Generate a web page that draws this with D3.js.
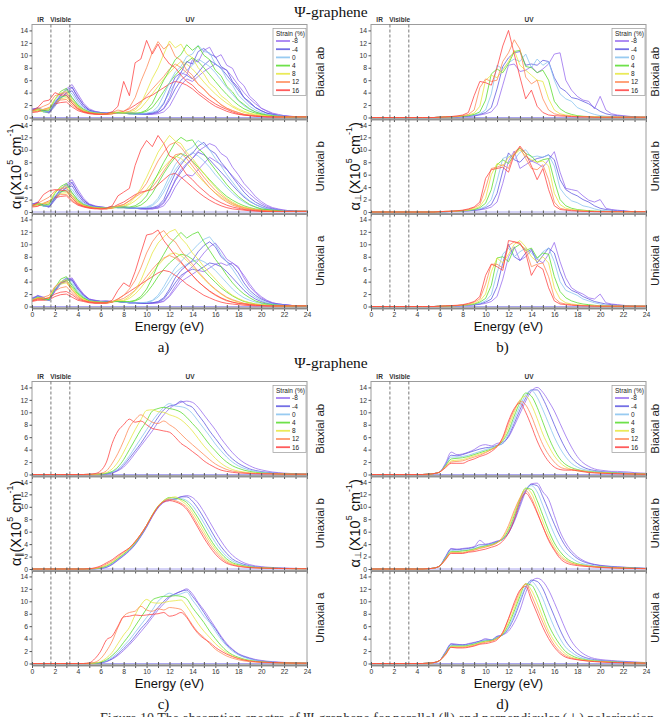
<!DOCTYPE html>
<html><head><meta charset="utf-8">
<script src="https://cdn.jsdelivr.net/npm/d3@7"></script>
<style>body{margin:0;background:#fff;}svg{display:block;}</style>
</head><body>
<svg id="chart" width="661" height="717"></svg>
<script>
const energy=[0,0.5,1,1.5,2,2.5,3,3.5,4,4.5,5,5.5,6,6.5,7,7.5,8,8.5,9,9.5,10,10.5,11,11.5,12,12.5,13,13.5,14,14.5,15,15.5,16,16.5,17,17.5,18,18.5,19,19.5,20,20.5,21,21.5,22,22.5,23,23.5,24];
const strains=["-8","-4","0","4","8","12","16"];
const strainColors=["#9468ee","#5c56e0","#86c2ef","#55dc2a","#e6e63c","#ff8652","#ff3f3f"];
const subplotLabels=["Biaxial ab","Uniaxial b","Uniaxial a"];
const xMinorTicks=[0,1,2,3,4,5,6,7,8,9,10,11,12,13,14,15,16,17,18,19,20,21,22,23,24];
const yTicks=[0,2,4,6,8,10,12,14];
const regionLabels=["IR","Visible","UV"];
const regionPos=[0.75,2.5,13.8];
const regionBounds=[1.65,3.3];

// Panel a : alpha parallel (DFT), two in-plane components per strain
const aBiaxXX=[
[1.1,1.6,1.2,0.8,2.2,3.6,4.6,5.3,3.8,2.3,1.4,1.0,0.8,0.7,0.9,0.8,0.8,0.7,0.7,0.6,0.6,0.6,0.8,1.5,3.2,5.6,7.2,6.8,9.3,8.9,10.8,11.3,9.6,10.1,8.4,7.9,6.0,5.1,3.4,2.6,1.5,1.1,0.7,0.5,0.3,0.2,0.15,0.1,0.1],
[1.2,1.5,1.1,0.9,2.4,3.5,4.4,4.9,3.2,2.0,1.2,0.9,0.8,0.7,0.8,0.8,0.8,0.7,0.6,0.6,0.6,0.7,1.0,2.2,4.5,6.5,7.2,9.0,8.6,10.6,11.1,10.2,9.8,8.2,7.6,5.8,4.8,3.2,2.5,1.6,1.1,0.7,0.5,0.3,0.2,0.15,0.1,0.1,0.1],
[1.0,1.5,1.0,1.0,2.6,3.8,4.4,3.8,2.4,1.5,1.0,0.8,0.7,0.7,0.8,0.7,0.8,0.7,0.6,0.6,0.7,0.9,1.8,3.6,5.6,7.3,8.2,9.8,10.2,11.6,10.6,10.4,8.6,7.9,6.2,5.2,3.6,2.7,1.8,1.2,0.8,0.5,0.4,0.3,0.2,0.1,0.1,0.1,0.1],
[1.0,1.4,1.1,1.2,2.9,4.2,4.7,3.2,2.0,1.3,0.9,0.7,0.7,0.6,0.8,0.8,0.8,0.7,0.7,0.8,1.2,2.3,4.2,6.0,7.6,9.3,10.1,11.7,10.8,11.5,10.0,9.3,7.6,6.7,5.0,4.1,2.8,2.1,1.4,0.9,0.6,0.4,0.3,0.2,0.15,0.1,0.1,0.1,0.1],
[1.1,1.3,1.3,1.5,3.0,3.9,4.3,2.9,1.8,1.2,0.8,0.7,0.6,0.6,0.7,0.9,0.8,0.9,1.2,2.2,4.2,6.3,8.0,10.2,12.3,11.2,11.8,10.2,9.6,8.0,7.0,5.5,4.7,3.5,2.8,1.9,1.4,1.0,0.7,0.5,0.4,0.3,0.2,0.15,0.1,0.1,0.1,0.1,0.1],
[1.0,1.4,1.8,2.2,3.5,3.8,4.0,2.6,1.6,1.0,0.8,0.6,0.6,0.6,0.8,1.2,1.0,1.6,3.2,5.8,8.0,10.5,12.2,11.0,11.8,9.8,9.2,7.6,6.8,5.3,4.6,3.5,2.9,2.0,1.5,1.1,0.8,0.5,0.4,0.3,0.2,0.15,0.1,0.1,0.1,0.1,0.1,0.1,0.1],
[1.1,1.6,2.6,2.8,4.0,3.6,3.6,2.3,1.4,0.9,0.7,0.6,0.5,0.6,0.9,1.8,5.8,3.5,8.8,9.4,12.4,10.2,11.8,9.8,8.6,8.0,6.8,5.8,5.2,4.2,3.5,2.8,2.2,1.7,1.3,0.9,0.6,0.4,0.3,0.2,0.15,0.1,0.1,0.1,0.1,0.1,0.1,0.1,0.1]];
const aBiaxYY=[
[1.4,1.5,1.0,0.7,1.8,3.0,4.0,4.8,3.4,2.0,1.2,0.9,0.8,0.7,0.8,0.7,0.7,0.6,0.6,0.5,0.5,0.5,0.6,0.9,1.8,3.5,5.2,6.2,5.8,6.6,7.4,8.0,8.6,8.0,7.6,6.5,5.2,4.0,3.0,2.2,1.5,1.0,0.6,0.4,0.3,0.2,0.1,0.1,0.1],
[1.3,1.4,1.0,0.8,2.0,3.1,3.9,4.3,2.8,1.7,1.1,0.8,0.7,0.7,0.8,0.7,0.7,0.6,0.6,0.5,0.5,0.6,0.8,1.4,2.8,4.6,6.0,6.8,6.2,7.2,8.4,9.2,8.6,7.9,6.8,5.6,4.4,3.2,2.3,1.6,1.1,0.7,0.5,0.3,0.2,0.15,0.1,0.1,0.1],
[1.2,1.3,0.9,0.8,2.0,3.2,3.7,3.2,2.1,1.3,0.9,0.7,0.7,0.6,0.7,0.7,0.7,0.6,0.5,0.5,0.6,0.8,1.2,2.4,4.0,5.6,6.8,7.6,8.4,9.4,8.8,8.2,7.2,6.0,4.8,3.7,2.7,1.9,1.3,0.9,0.6,0.4,0.3,0.2,0.1,0.1,0.1,0.1,0.1],
[1.1,1.2,0.9,0.9,2.1,3.3,3.5,2.7,1.8,1.1,0.8,0.7,0.6,0.6,0.7,0.7,0.7,0.6,0.6,0.7,1.0,1.6,2.8,4.2,5.6,6.8,7.8,8.9,9.6,9.0,8.0,6.9,5.8,4.7,3.7,2.8,2.0,1.4,1.0,0.7,0.5,0.3,0.2,0.15,0.1,0.1,0.1,0.1,0.1],
[1.0,1.1,1.0,1.1,2.3,3.0,3.2,2.3,1.5,1.0,0.7,0.6,0.6,0.6,0.6,0.7,0.7,0.7,0.9,1.5,2.6,3.8,5.0,6.2,7.2,8.2,9.0,8.6,7.8,6.8,5.7,4.7,3.8,3.0,2.3,1.7,1.2,0.8,0.6,0.4,0.3,0.2,0.15,0.1,0.1,0.1,0.1,0.1,0.1],
[0.9,1.0,1.2,1.4,2.4,2.8,2.9,2.0,1.3,0.9,0.7,0.6,0.5,0.5,0.6,0.8,0.8,1.0,1.5,2.4,3.5,4.6,5.6,6.6,7.8,8.6,8.0,7.2,6.3,5.4,4.5,3.6,2.8,2.1,1.5,1.1,0.8,0.5,0.4,0.3,0.2,0.15,0.1,0.1,0.1,0.1,0.1,0.1,0.1],
[0.8,0.9,1.3,1.6,2.2,2.4,2.5,1.7,1.1,0.8,0.6,0.5,0.5,0.5,0.6,0.8,1.0,1.4,2.0,2.6,3.2,3.6,4.2,4.8,5.4,5.8,5.6,5.2,4.6,3.8,3.1,2.4,1.8,1.4,1.0,0.7,0.5,0.4,0.3,0.2,0.15,0.1,0.1,0.1,0.1,0.1,0.1,0.1,0.1]];
const aUniBXX=[
[1.2,1.6,1.1,0.8,2.3,3.7,4.5,5.2,3.6,2.2,1.3,1.0,0.8,0.7,0.8,0.8,0.8,0.7,0.6,0.6,0.5,0.5,0.7,1.4,3.0,5.2,6.8,7.8,8.6,9.8,10.4,11.0,10.6,9.4,8.8,7.2,6.0,4.6,3.6,2.5,1.7,1.1,0.7,0.5,0.3,0.2,0.15,0.1,0.1],
[1.1,1.5,1.1,0.9,2.4,3.6,4.3,4.8,3.1,1.9,1.2,0.9,0.8,0.7,0.8,0.8,0.8,0.7,0.6,0.6,0.6,0.7,1.0,2.0,4.2,6.2,7.6,8.8,9.4,10.6,11.2,10.0,9.4,8.0,6.9,5.6,4.4,3.2,2.3,1.6,1.1,0.7,0.5,0.3,0.2,0.15,0.1,0.1,0.1],
[1.0,1.4,1.0,1.0,2.6,3.7,4.3,3.6,2.3,1.4,1.0,0.8,0.7,0.7,0.8,0.7,0.8,0.7,0.6,0.7,0.8,1.2,2.2,3.8,5.8,7.6,8.8,9.9,10.4,11.5,10.8,10.0,8.6,7.4,6.0,4.8,3.6,2.6,1.8,1.2,0.8,0.5,0.4,0.3,0.2,0.1,0.1,0.1,0.1],
[1.0,1.3,1.1,1.3,3.0,4.1,4.6,3.1,1.9,1.2,0.9,0.7,0.7,0.6,0.8,0.8,0.8,0.8,1.0,1.6,2.6,4.4,6.2,8.0,9.6,11.2,12.0,11.4,11.6,10.2,9.4,8.0,6.8,5.6,4.4,3.4,2.5,1.8,1.2,0.8,0.5,0.4,0.3,0.2,0.1,0.1,0.1,0.1,0.1],
[1.1,1.3,1.4,1.6,3.2,3.9,4.2,2.8,1.7,1.1,0.8,0.7,0.6,0.6,0.7,0.9,1.0,1.4,2.4,3.8,5.6,7.6,9.6,11.0,12.3,11.4,11.0,9.6,8.6,7.4,6.2,5.0,4.0,3.0,2.2,1.6,1.1,0.8,0.6,0.4,0.3,0.2,0.15,0.1,0.1,0.1,0.1,0.1,0.1],
[1.0,1.4,1.9,2.4,3.4,3.7,3.9,2.5,1.5,1.0,0.8,0.6,0.6,0.6,0.8,1.0,1.2,1.8,2.6,3.4,4.6,6.4,8.2,9.6,10.8,11.2,10.4,9.2,8.0,6.8,5.6,4.5,3.5,2.7,2.0,1.4,1.0,0.7,0.5,0.4,0.3,0.2,0.15,0.1,0.1,0.1,0.1,0.1,0.1],
[1.0,1.5,2.8,3.4,3.6,3.5,3.4,2.2,1.3,0.9,0.7,0.6,0.5,0.6,1.0,2.6,3.2,3.8,7.5,10.0,11.5,10.5,12.3,11.0,9.0,8.6,7.4,6.0,5.2,4.2,3.4,2.6,2.0,1.5,1.1,0.8,0.6,0.4,0.3,0.2,0.15,0.1,0.1,0.1,0.1,0.1,0.1,0.1,0.1]];
const aUniBYY=[
[1.3,1.5,1.0,0.8,1.9,3.1,4.0,4.6,3.2,1.9,1.2,0.9,0.8,0.7,0.8,0.7,0.7,0.6,0.6,0.5,0.5,0.5,0.6,1.0,2.2,4.0,5.4,6.0,5.8,6.8,7.8,8.8,8.2,7.6,6.8,5.8,4.8,3.8,2.9,2.1,1.4,0.9,0.6,0.4,0.3,0.2,0.1,0.1,0.1],
[1.3,1.4,1.0,0.8,2.0,3.2,3.9,4.2,2.7,1.6,1.1,0.8,0.7,0.7,0.8,0.7,0.7,0.6,0.6,0.5,0.5,0.6,0.8,1.6,3.2,5.0,6.4,7.6,8.6,9.6,9.2,8.4,7.4,6.4,5.4,4.3,3.3,2.4,1.7,1.2,0.8,0.5,0.4,0.3,0.2,0.1,0.1,0.1,0.1],
[1.2,1.3,0.9,0.9,2.1,3.2,3.6,3.1,2.0,1.3,0.9,0.7,0.7,0.6,0.7,0.7,0.7,0.6,0.6,0.6,0.7,1.0,1.8,3.2,5.0,6.8,8.0,8.8,9.6,9.0,8.2,7.2,6.0,5.0,3.9,3.0,2.2,1.6,1.1,0.8,0.5,0.4,0.3,0.2,0.1,0.1,0.1,0.1,0.1],
[1.1,1.2,1.0,1.0,2.2,3.3,3.4,2.6,1.7,1.1,0.8,0.7,0.6,0.6,0.7,0.7,0.7,0.7,0.8,1.1,1.8,3.0,4.6,6.2,7.6,8.8,9.4,9.0,8.2,7.2,6.2,5.2,4.2,3.3,2.5,1.9,1.4,1.0,0.7,0.5,0.4,0.3,0.2,0.1,0.1,0.1,0.1,0.1,0.1],
[1.0,1.1,1.1,1.2,2.4,3.0,3.1,2.2,1.4,1.0,0.7,0.6,0.6,0.6,0.6,0.8,0.9,1.2,1.8,2.6,3.6,4.8,6.0,7.2,8.2,9.0,8.6,7.8,6.8,5.8,4.8,3.9,3.1,2.4,1.8,1.3,0.9,0.6,0.5,0.3,0.2,0.15,0.1,0.1,0.1,0.1,0.1,0.1,0.1],
[0.9,1.0,1.3,1.5,2.5,2.8,2.8,1.9,1.2,0.9,0.7,0.6,0.5,0.5,0.6,0.9,1.2,1.8,2.4,3.0,3.4,4.0,5.2,6.6,8.0,9.2,9.4,8.6,7.4,6.2,5.0,3.9,3.0,2.2,1.6,1.1,0.8,0.5,0.4,0.3,0.2,0.15,0.1,0.1,0.1,0.1,0.1,0.1,0.1],
[0.8,0.9,1.4,1.8,2.3,2.5,2.6,1.7,1.1,0.8,0.6,0.5,0.5,0.5,0.7,1.2,1.6,2.2,2.8,3.2,3.4,3.6,4.4,5.2,6.0,6.2,5.6,4.8,4.0,3.2,2.5,1.9,1.4,1.0,0.7,0.5,0.4,0.3,0.2,0.15,0.1,0.1,0.1,0.1,0.1,0.1,0.1,0.1,0.1]];
const aUniAXX=[
[1.2,1.8,1.5,0.9,2.6,3.9,4.6,4.4,3.0,1.9,1.2,1.0,0.8,0.9,0.8,0.8,0.7,0.6,0.6,0.5,0.5,0.5,0.6,0.9,1.8,3.2,4.6,5.6,6.4,7.4,8.6,9.6,10.2,9.0,7.6,7.0,6.4,4.6,3.2,2.2,1.4,0.9,0.6,0.4,0.3,0.2,0.1,0.1,0.1],
[1.1,1.7,1.4,1.0,2.7,3.8,4.5,4.2,2.8,1.8,1.1,0.9,0.8,0.8,0.8,0.8,0.7,0.6,0.6,0.5,0.5,0.6,0.8,1.4,2.8,4.6,5.8,6.6,7.4,8.8,9.8,10.4,9.6,8.0,7.2,6.6,5.4,3.8,2.6,1.8,1.2,0.8,0.5,0.4,0.3,0.2,0.1,0.1,0.1],
[1.0,1.6,1.3,1.0,2.8,3.9,4.6,3.9,2.6,1.6,1.0,0.8,0.8,0.7,0.8,0.8,0.7,0.6,0.6,0.6,0.7,1.0,1.8,3.2,4.8,6.2,7.2,8.2,9.0,10.0,10.8,11.2,10.0,8.4,7.2,6.0,4.6,3.2,2.2,1.5,1.0,0.6,0.4,0.3,0.2,0.1,0.1,0.1,0.1],
[1.0,1.5,1.2,1.1,3.0,4.4,4.8,3.4,2.2,1.4,0.9,0.8,0.7,0.7,0.8,0.8,0.8,0.8,1.0,1.6,2.8,4.6,6.8,8.4,10.0,11.0,11.9,11.0,11.6,12.0,10.4,9.0,7.6,6.4,5.0,3.8,2.8,2.0,1.4,0.9,0.6,0.4,0.3,0.2,0.1,0.1,0.1,0.1,0.1],
[1.1,1.4,1.3,1.4,3.1,4.0,4.3,2.9,1.8,1.2,0.8,0.7,0.7,0.6,0.8,1.0,1.0,1.6,2.6,4.2,6.4,8.6,10.2,11.2,12.0,12.4,11.0,10.0,8.6,7.6,6.4,5.4,4.4,3.4,2.5,1.8,1.3,0.9,0.6,0.4,0.3,0.2,0.15,0.1,0.1,0.1,0.1,0.1,0.1],
[1.0,1.3,1.5,1.8,3.2,3.8,4.0,2.6,1.6,1.0,0.8,0.7,0.6,0.6,0.8,1.2,1.8,2.8,4.2,6.2,8.6,10.4,11.6,12.2,11.0,10.4,9.0,7.8,6.8,5.6,4.6,3.6,2.8,2.1,1.5,1.1,0.8,0.5,0.4,0.3,0.2,0.15,0.1,0.1,0.1,0.1,0.1,0.1,0.1],
[0.9,1.2,1.2,1.4,2.0,2.3,2.4,1.9,1.2,0.9,0.7,0.6,0.6,0.6,1.0,2.6,3.8,3.2,5.6,8.6,11.5,11.7,12.3,10.6,9.4,8.2,7.2,6.0,5.0,4.0,3.2,2.5,1.9,1.4,1.0,0.7,0.5,0.4,0.3,0.2,0.15,0.1,0.1,0.1,0.1,0.1,0.1,0.1,0.1]];
const aUniAYY=[
[1.4,1.7,1.3,1.0,2.4,3.6,4.3,4.6,3.2,2.0,1.2,1.0,0.9,0.9,0.8,0.8,0.7,0.6,0.6,0.5,0.5,0.5,0.6,0.8,1.6,2.8,4.0,4.6,5.2,5.8,5.6,6.2,6.8,7.0,6.6,7.0,6.2,5.0,3.6,2.4,1.6,1.0,0.6,0.4,0.3,0.2,0.1,0.1,0.1],
[1.3,1.6,1.2,1.0,2.5,3.6,4.2,4.3,2.9,1.8,1.1,0.9,0.8,0.8,0.8,0.8,0.7,0.6,0.6,0.5,0.5,0.6,0.7,1.2,2.4,3.8,5.0,5.6,6.0,5.8,6.4,7.0,6.8,6.4,5.6,4.6,3.6,2.6,1.8,1.2,0.8,0.5,0.4,0.3,0.2,0.1,0.1,0.1,0.1],
[1.2,1.5,1.1,1.0,2.6,3.6,4.0,3.6,2.4,1.5,1.0,0.8,0.8,0.7,0.8,0.8,0.7,0.6,0.6,0.6,0.6,0.9,1.5,2.6,4.0,5.4,6.2,6.8,7.2,7.6,7.2,6.6,5.8,4.8,3.8,2.8,2.0,1.4,1.0,0.7,0.5,0.3,0.2,0.15,0.1,0.1,0.1,0.1,0.1],
[1.1,1.4,1.1,1.1,2.7,3.8,4.2,3.1,2.0,1.3,0.9,0.8,0.7,0.7,0.8,0.8,0.7,0.7,0.9,1.3,2.2,3.4,4.8,6.0,7.0,7.8,8.4,8.2,7.6,6.8,5.8,4.8,3.9,3.0,2.3,1.7,1.2,0.8,0.6,0.4,0.3,0.2,0.15,0.1,0.1,0.1,0.1,0.1,0.1],
[1.0,1.3,1.2,1.3,2.8,3.6,3.8,2.7,1.7,1.1,0.8,0.7,0.6,0.6,0.7,0.9,0.9,1.3,2.0,3.0,4.2,5.4,6.6,7.6,8.4,8.6,8.2,7.4,6.4,5.4,4.4,3.5,2.7,2.0,1.4,1.0,0.7,0.5,0.4,0.3,0.2,0.15,0.1,0.1,0.1,0.1,0.1,0.1,0.1],
[0.9,1.1,1.2,1.4,2.5,3.0,3.2,2.2,1.4,1.0,0.7,0.6,0.6,0.6,0.7,1.0,1.3,1.9,2.6,3.6,4.8,6.0,7.0,7.8,8.2,7.8,7.0,6.0,5.0,4.0,3.2,2.4,1.8,1.3,0.9,0.7,0.5,0.4,0.3,0.2,0.15,0.1,0.1,0.1,0.1,0.1,0.1,0.1,0.1],
[0.8,1.0,1.0,1.1,1.6,1.9,2.0,1.5,1.0,0.8,0.6,0.5,0.5,0.5,0.7,1.2,1.8,2.4,3.0,3.6,4.2,4.8,5.4,5.8,5.6,5.0,4.4,3.6,3.0,2.4,1.8,1.4,1.0,0.7,0.5,0.4,0.3,0.2,0.15,0.1,0.1,0.1,0.1,0.1,0.1,0.1,0.1,0.1,0.1]];

// Panel b : alpha perpendicular (DFT)
const bBiax=[
[0,0,0,0,0,0,0,0,0,0,0,0,0.05,0.05,0.1,0.1,0.15,0.2,0.25,0.4,0.6,0.9,2.0,5.2,8.4,8.6,7.4,7.6,8.2,7.2,7.8,8.6,10.2,10.4,6.0,4.4,3.4,2.8,2.6,1.4,3.4,1.2,0.6,0.4,0.3,0.2,0.1,0.05,0.05],
[0,0,0,0,0,0,0,0,0,0,0,0,0.05,0.05,0.1,0.1,0.15,0.2,0.3,0.5,0.8,1.6,4.6,8.2,9.6,10.4,10.6,8.4,8.6,8.4,9.2,9.0,6.4,4.8,4.2,3.2,3.0,2.6,2.2,1.6,1.0,0.6,0.4,0.3,0.2,0.15,0.1,0.05,0.05],
[0,0,0,0,0,0,0,0,0,0,0,0,0.05,0.05,0.1,0.15,0.2,0.3,0.4,0.6,1.2,3.8,8.4,7.8,8.8,9.4,9.0,10.2,8.0,9.4,8.4,9.0,6.0,3.8,3.0,2.6,1.6,1.2,0.8,0.5,0.3,0.2,0.15,0.1,0.1,0.05,0.05,0.05,0.05],
[0,0,0,0,0,0,0,0,0,0,0,0,0.05,0.1,0.1,0.15,0.2,0.3,0.5,0.9,2.8,7.0,7.8,7.2,8.6,10.6,10.8,8.2,8.0,7.2,7.6,6.0,2.6,1.4,0.8,0.5,0.3,0.2,0.15,0.1,0.1,0.05,0.05,0.05,0.05,0.05,0.05,0.05,0.05],
[0,0,0,0,0,0,0,0,0,0,0,0,0.05,0.1,0.1,0.15,0.25,0.4,0.7,1.8,6.0,6.8,6.4,7.6,9.0,10.8,8.4,7.6,6.8,6.0,5.8,3.0,1.2,0.6,0.4,0.3,0.2,0.15,0.1,0.1,0.05,0.05,0.05,0.05,0.05,0.05,0.05,0.05,0.05],
[0,0,0,0,0,0,0,0,0,0,0,0,0.05,0.1,0.15,0.2,0.3,0.5,1.2,4.8,6.2,5.8,6.0,9.0,10.4,12.5,11.0,6.5,5.4,6.0,3.0,1.2,0.6,0.4,0.3,0.2,0.15,0.1,0.1,0.05,0.05,0.05,0.05,0.05,0.05,0.05,0.05,0.05,0.05],
[0,0,0,0,0,0,0,0,0,0,0,0,0.05,0.1,0.15,0.25,0.4,0.8,3.5,5.8,5.6,5.2,8.0,11.5,14.0,10.2,6.5,3.0,4.4,1.8,0.8,0.4,0.3,0.25,0.2,0.15,0.1,0.1,0.1,0.05,0.05,0.05,0.05,0.05,0.05,0.05,0.05,0.05,0.05]];
const bUniB=[
[0,0,0,0,0,0,0,0,0,0,0,0,0.05,0.05,0.1,0.1,0.15,0.2,0.25,0.35,0.5,0.8,1.6,4.6,8.2,9.8,7.0,7.6,8.2,7.8,7.2,8.4,9.7,6.4,3.8,3.6,3.4,2.6,1.9,1.6,2.0,0.6,0.4,0.3,0.2,0.1,0.05,0.05,0.05],
[0,0,0,0,0,0,0,0,0,0,0,0,0.05,0.05,0.1,0.1,0.15,0.2,0.3,0.4,0.7,1.2,3.0,6.6,9.5,8.4,8.0,9.0,8.2,8.6,8.8,9.2,8.4,5.2,3.6,3.0,2.6,2.0,1.6,1.0,0.6,0.4,0.3,0.2,0.15,0.1,0.05,0.05,0.05],
[0,0,0,0,0,0,0,0,0,0,0,0,0.05,0.05,0.1,0.1,0.15,0.25,0.35,0.5,0.9,2.0,5.0,8.6,9.0,8.4,9.6,10.0,8.8,9.0,8.8,9.2,7.4,3.8,2.6,1.8,1.5,1.0,0.8,0.5,0.3,0.2,0.15,0.1,0.1,0.05,0.05,0.05,0.05],
[0,0,0,0,0,0,0,0,0,0,0,0,0.05,0.05,0.1,0.15,0.2,0.3,0.4,0.7,1.4,3.6,7.6,8.4,7.8,9.2,10.3,9.4,9.0,8.0,8.4,8.6,5.0,2.0,1.0,0.6,0.4,0.3,0.2,0.15,0.1,0.1,0.05,0.05,0.05,0.05,0.05,0.05,0.05],
[0,0,0,0,0,0,0,0,0,0,0,0,0.05,0.1,0.1,0.15,0.2,0.3,0.5,0.9,2.2,6.0,7.8,7.4,8.8,9.2,10.0,9.0,8.4,8.0,8.2,7.4,3.0,1.2,0.6,0.4,0.3,0.2,0.15,0.1,0.1,0.05,0.05,0.05,0.05,0.05,0.05,0.05,0.05],
[0,0,0,0,0,0,0,0,0,0,0,0,0.05,0.1,0.1,0.15,0.25,0.4,0.7,1.2,3.8,7.0,7.2,7.6,7.0,9.6,10.4,8.6,7.0,6.8,7.6,5.2,1.6,0.6,0.4,0.3,0.2,0.15,0.1,0.1,0.05,0.05,0.05,0.05,0.05,0.05,0.05,0.05,0.05],
[0,0,0,0,0,0,0,0,0,0,0,0,0.05,0.1,0.15,0.2,0.3,0.5,0.8,1.6,5.4,6.8,7.0,7.2,6.4,9.2,10.6,9.4,7.4,5.2,7.0,3.6,1.0,0.4,0.3,0.2,0.15,0.1,0.1,0.05,0.05,0.05,0.05,0.05,0.05,0.05,0.05,0.05,0.05]];
const bUniA=[
[0,0,0,0,0,0,0,0,0,0,0,0,0.05,0.05,0.1,0.1,0.15,0.2,0.25,0.35,0.5,0.8,1.6,4.4,8.0,9.6,7.4,8.0,9.0,7.6,7.0,8.4,10.3,7.2,4.6,3.0,2.4,2.0,1.4,1.2,2.0,0.6,0.4,0.3,0.2,0.1,0.05,0.05,0.05],
[0,0,0,0,0,0,0,0,0,0,0,0,0.05,0.05,0.1,0.1,0.15,0.2,0.3,0.4,0.7,1.2,3.2,7.0,10.0,8.0,7.4,8.6,9.2,7.0,8.2,9.4,8.6,5.6,3.4,2.6,2.2,1.6,1.2,0.8,0.6,0.4,0.3,0.2,0.15,0.1,0.05,0.05,0.05],
[0,0,0,0,0,0,0,0,0,0,0,0,0.05,0.05,0.1,0.1,0.15,0.25,0.35,0.5,0.9,1.9,5.4,8.4,9.4,8.0,8.8,9.4,8.6,7.6,8.8,9.4,7.2,4.0,2.6,2.2,1.8,1.2,0.9,0.6,0.4,0.2,0.15,0.1,0.1,0.05,0.05,0.05,0.05],
[0,0,0,0,0,0,0,0,0,0,0,0,0.05,0.05,0.1,0.15,0.2,0.3,0.4,0.7,1.3,3.4,7.8,8.0,7.2,9.4,10.0,9.0,9.4,7.8,8.6,8.4,4.8,2.4,1.4,0.9,0.6,0.4,0.3,0.2,0.1,0.1,0.05,0.05,0.05,0.05,0.05,0.05,0.05],
[0,0,0,0,0,0,0,0,0,0,0,0,0.05,0.1,0.1,0.15,0.2,0.3,0.5,0.9,2.0,5.6,7.8,7.0,8.4,10.0,10.6,9.6,8.0,7.2,8.0,7.0,3.0,1.2,0.6,0.4,0.3,0.2,0.15,0.1,0.1,0.05,0.05,0.05,0.05,0.05,0.05,0.05,0.05],
[0,0,0,0,0,0,0,0,0,0,0,0,0.05,0.1,0.1,0.15,0.25,0.4,0.7,1.2,3.6,6.8,6.8,6.2,9.8,10.4,10.0,9.2,6.4,6.8,7.0,4.8,1.4,0.6,0.4,0.3,0.2,0.15,0.1,0.1,0.05,0.05,0.05,0.05,0.05,0.05,0.05,0.05,0.05],
[0,0,0,0,0,0,0,0,0,0,0,0,0.05,0.1,0.15,0.2,0.3,0.5,0.8,1.6,5.0,6.8,6.4,5.8,10.6,10.4,10.2,8.6,5.0,6.6,6.0,3.0,0.9,0.4,0.3,0.2,0.15,0.1,0.1,0.05,0.05,0.05,0.05,0.05,0.05,0.05,0.05,0.05,0.05]];

// Panel c : alpha parallel (smooth)
const cBiax=[
[0,0,0,0,0,0,0,0,0,0,0.01,0.02,0.04,0.1,0.25,0.6,1.2,2.2,3.4,4.6,5.8,7.0,8.4,9.6,10.6,11.2,11.6,11.8,11.6,10.8,9.6,8.4,7.2,5.8,4.6,3.5,2.6,1.9,1.4,1.0,0.75,0.55,0.4,0.3,0.22,0.17,0.13,0.1,0.08],
[0,0,0,0,0,0,0,0,0,0,0.01,0.02,0.05,0.12,0.3,0.7,1.5,2.6,3.8,5.0,6.4,7.8,9.2,10.4,11.0,11.2,11.8,11.2,10.8,9.6,8.4,7.0,5.8,4.6,3.4,2.5,1.8,1.3,0.9,0.65,0.48,0.36,0.27,0.2,0.15,0.12,0.1,0.08,0.06],
[0,0,0,0,0,0,0,0,0,0,0.01,0.02,0.05,0.15,0.4,0.9,1.8,3.0,4.4,5.8,7.2,8.6,9.8,10.8,11.4,11.0,10.9,10.6,9.8,8.6,7.4,6.2,4.9,3.8,2.8,2.0,1.4,1.0,0.7,0.5,0.36,0.27,0.2,0.15,0.12,0.1,0.08,0.06,0.05],
[0,0,0,0,0,0,0,0,0,0,0.01,0.02,0.06,0.2,0.5,1.2,2.4,4.0,5.6,7.2,8.6,10.2,10.6,10.8,10.6,10.4,10.0,9.2,8.2,7.2,6.0,4.8,3.8,2.8,2.0,1.4,1.0,0.7,0.5,0.35,0.26,0.2,0.15,0.12,0.1,0.08,0.06,0.05,0.05],
[0,0,0,0,0,0,0,0,0,0,0.02,0.03,0.1,0.3,0.9,2.0,3.6,5.4,7.2,8.8,10.3,10.4,10.1,10.0,9.6,9.3,8.8,8.0,7.0,5.8,4.6,3.6,2.6,1.8,1.2,0.8,0.55,0.4,0.3,0.22,0.17,0.14,0.12,0.1,0.08,0.06,0.05,0.05,0.05],
[0,0,0,0,0,0,0,0,0,0,0.02,0.05,0.2,0.6,1.8,3.4,5.4,7.6,8.8,9.6,9.0,8.4,8.2,8.6,8.0,7.4,6.5,5.6,4.8,4.0,3.2,2.4,1.7,1.2,0.8,0.55,0.4,0.3,0.22,0.17,0.14,0.12,0.1,0.08,0.07,0.06,0.05,0.05,0.05],
[0,0,0,0,0,0,0,0,0,0,0.05,0.15,0.6,2.0,5.0,7.0,8.0,8.9,8.4,8.6,8.0,7.4,7.2,7.0,6.8,6.0,5.0,4.4,3.7,3.0,2.2,1.6,1.1,0.7,0.5,0.35,0.25,0.2,0.15,0.12,0.1,0.1,0.1,0.08,0.06,0.05,0.05,0.05,0.05]];
const cUniB=[
[0,0,0,0,0,0,0,0,0,0,0.01,0.03,0.1,0.25,0.7,1.4,2.1,2.9,3.9,5.2,6.7,8.4,9.8,10.7,11.0,11.3,11.6,11.8,11.5,10.6,9.2,7.6,6.0,4.5,3.2,2.2,1.5,1.0,0.7,0.5,0.38,0.3,0.24,0.2,0.16,0.13,0.1,0.08,0.06],
[0,0,0,0,0,0,0,0,0,0,0.01,0.04,0.12,0.3,0.8,1.5,2.2,3.0,4.0,5.3,6.8,8.5,9.9,10.8,11.2,11.2,11.6,11.6,10.9,9.7,8.2,6.6,5.0,3.6,2.5,1.6,1.1,0.75,0.52,0.37,0.28,0.22,0.17,0.13,0.1,0.08,0.07,0.06,0.05],
[0,0,0,0,0,0,0,0,0,0,0.01,0.05,0.15,0.4,0.9,1.6,2.3,3.1,4.1,5.4,6.9,8.6,10.0,10.9,11.3,11.2,11.3,11.0,10.2,8.9,7.4,5.8,4.3,3.0,2.0,1.3,0.85,0.6,0.42,0.3,0.23,0.18,0.14,0.11,0.09,0.07,0.06,0.05,0.05],
[0,0,0,0,0,0,0,0,0,0,0.02,0.06,0.2,0.5,1.0,1.7,2.4,3.2,4.2,5.5,7.0,8.7,10.1,11.0,11.5,11.4,11.2,10.7,9.6,8.2,6.6,5.0,3.6,2.5,1.6,1.0,0.7,0.5,0.35,0.26,0.2,0.16,0.13,0.1,0.08,0.07,0.06,0.05,0.05],
[0,0,0,0,0,0,0,0,0,0,0.02,0.08,0.25,0.6,1.1,1.8,2.5,3.3,4.3,5.6,7.0,8.7,10.1,11.0,11.4,11.6,11.0,10.3,9.1,7.6,6.0,4.5,3.2,2.1,1.3,0.85,0.55,0.4,0.3,0.22,0.17,0.14,0.12,0.1,0.08,0.06,0.05,0.05,0.05],
[0,0,0,0,0,0,0,0,0,0,0.03,0.12,0.35,0.8,1.3,2.0,2.7,3.4,4.4,5.6,7.0,8.6,10.0,10.9,11.2,11.0,10.6,9.9,8.6,7.0,5.5,4.0,2.8,1.8,1.1,0.7,0.5,0.35,0.25,0.2,0.16,0.13,0.11,0.09,0.07,0.06,0.05,0.05,0.05],
[0,0,0,0,0,0,0,0,0,0,0.05,0.2,0.5,1.0,1.5,2.2,2.8,3.4,4.4,5.6,7.0,8.6,10.0,10.8,11.0,10.8,10.4,9.6,8.2,6.6,5.0,3.6,2.4,1.5,0.9,0.6,0.4,0.3,0.22,0.17,0.14,0.12,0.1,0.08,0.07,0.06,0.05,0.05,0.05]];
const cUniA=[
[0,0,0,0,0,0,0,0,0,0,0.01,0.02,0.1,0.3,0.7,1.3,2.1,3.0,4.0,5.1,6.2,7.4,8.6,9.6,10.6,11.2,11.6,12.0,11.2,9.8,8.6,7.2,5.8,4.4,3.2,2.3,1.6,1.2,0.9,0.65,0.5,0.38,0.3,0.24,0.18,0.14,0.1,0.08,0.06],
[0,0,0,0,0,0,0,0,0,0,0.01,0.03,0.12,0.35,0.8,1.5,2.4,3.3,4.4,5.6,6.6,7.8,9.0,10.0,10.8,11.2,11.6,11.8,10.8,9.6,8.2,6.8,5.6,4.2,3.0,2.2,1.5,1.1,0.8,0.55,0.4,0.3,0.22,0.17,0.13,0.1,0.08,0.06,0.05],
[0,0,0,0,0,0,0,0,0,0,0.01,0.04,0.15,0.45,1.0,1.8,2.8,3.8,5.0,6.2,7.4,8.6,10.0,10.8,11.3,11.0,11.2,11.5,10.2,9.0,7.6,6.6,5.2,3.9,2.8,2.0,1.4,1.0,0.7,0.5,0.36,0.27,0.2,0.15,0.12,0.1,0.08,0.06,0.05],
[0,0,0,0,0,0,0,0,0,0,0.01,0.05,0.2,0.6,1.3,2.2,3.4,4.6,6.0,7.4,8.8,10.2,10.6,10.8,10.8,10.9,10.8,10.4,9.0,7.8,6.6,5.2,4.0,2.9,2.0,1.4,1.0,0.7,0.5,0.36,0.27,0.2,0.16,0.13,0.1,0.08,0.07,0.06,0.05],
[0,0,0,0,0,0,0,0,0,0,0.02,0.08,0.3,0.9,1.8,3.2,4.6,5.8,7.8,9.4,10.3,9.8,9.7,9.8,10.0,10.1,10.2,9.2,7.8,6.4,5.2,4.2,3.2,2.4,1.7,1.2,0.85,0.6,0.42,0.3,0.22,0.17,0.14,0.11,0.09,0.07,0.06,0.05,0.05],
[0,0,0,0,0,0,0,0,0,0,0.03,0.2,0.8,2.0,3.6,5.8,7.6,8.2,8.4,9.2,8.6,8.4,8.8,8.6,9.0,8.9,8.7,7.6,6.2,5.0,4.2,3.2,2.3,1.7,1.2,0.85,0.6,0.42,0.3,0.22,0.17,0.14,0.12,0.1,0.08,0.06,0.05,0.05,0.05],
[0,0,0,0,0,0,0,0,0,0,0.1,0.8,2.0,3.8,4.4,6.0,7.5,7.6,7.8,7.7,7.8,7.9,8.0,8.2,7.6,7.8,8.2,7.4,6.0,4.8,4.0,3.4,2.6,2.0,1.5,1.1,0.8,0.55,0.4,0.3,0.24,0.2,0.16,0.13,0.1,0.08,0.07,0.06,0.05]];

// Panel d : alpha perpendicular (smooth)
const dBiax=[
[0,0,0,0,0,0,0,0,0,0,0.05,0.15,0.4,1.8,3.6,3.2,3.3,3.6,4.0,4.6,4.8,4.6,5.0,5.2,6.0,7.8,9.8,11.8,13.4,14.0,13.2,11.8,10.2,8.2,6.2,4.4,2.9,1.9,1.3,0.9,0.7,0.6,0.5,0.5,0.45,0.4,0.3,0.25,0.2],
[0,0,0,0,0,0,0,0,0,0,0.05,0.15,0.4,1.6,3.1,3.0,3.2,3.5,3.8,4.1,4.3,4.4,4.7,5.0,6.2,8.2,10.4,12.3,13.6,13.6,12.2,10.2,8.0,5.9,4.1,2.7,1.8,1.2,0.85,0.65,0.5,0.42,0.36,0.3,0.26,0.22,0.18,0.14,0.1],
[0,0,0,0,0,0,0,0,0,0,0.05,0.15,0.4,1.5,2.8,2.8,2.9,3.1,3.4,3.7,4.0,4.3,4.6,5.0,6.6,8.8,11.0,12.8,13.5,12.4,10.4,8.2,6.0,4.2,2.8,1.8,1.2,0.85,0.65,0.5,0.42,0.36,0.3,0.26,0.22,0.18,0.14,0.1,0.08],
[0,0,0,0,0,0,0,0,0,0,0.05,0.15,0.4,1.4,2.5,2.6,2.7,2.9,3.2,3.5,3.8,4.1,4.6,5.4,7.0,9.4,11.6,13.1,12.6,10.8,8.4,6.0,4.0,2.5,1.6,1.1,0.8,0.6,0.48,0.4,0.35,0.3,0.26,0.22,0.18,0.15,0.12,0.1,0.08],
[0,0,0,0,0,0,0,0,0,0,0.05,0.15,0.4,1.3,2.2,2.3,2.4,2.7,3.0,3.3,3.6,4.0,4.6,5.6,7.6,10.0,12.0,12.6,11.2,9.0,6.5,4.6,3.0,1.9,1.2,0.8,0.6,0.5,0.4,0.35,0.3,0.26,0.22,0.18,0.15,0.12,0.1,0.08,0.06],
[0,0,0,0,0,0,0,0,0,0,0.05,0.15,0.4,1.2,2.0,2.1,2.2,2.5,2.8,3.1,3.5,4.0,4.5,5.8,8.2,10.4,11.8,11.2,9.4,7.0,4.8,3.2,2.0,1.2,0.9,0.8,0.7,0.55,0.4,0.3,0.25,0.2,0.17,0.14,0.12,0.1,0.08,0.06,0.05],
[0,0,0,0,0,0,0,0,0,0,0.05,0.15,0.4,1.1,1.8,1.8,1.8,2.2,2.5,2.9,3.2,3.7,4.5,6.0,8.6,10.6,11.5,10.0,7.8,5.4,3.5,2.1,1.2,0.8,0.7,0.7,0.6,0.45,0.32,0.25,0.2,0.17,0.14,0.12,0.1,0.08,0.06,0.05,0.04]];
const dUniB=[
[0,0,0,0,0,0,0,0,0,0,0.05,0.15,0.5,2.0,3.3,3.2,3.3,3.4,3.6,4.6,4.0,4.2,4.5,4.8,5.8,7.6,10.0,12.4,13.7,13.8,12.4,11.2,8.6,6.0,4.2,2.9,2.0,1.4,1.0,0.75,0.6,0.5,0.42,0.36,0.3,0.25,0.2,0.15,0.1],
[0,0,0,0,0,0,0,0,0,0,0.05,0.15,0.5,1.9,3.2,3.1,3.2,3.3,3.5,3.9,3.9,4.1,4.4,4.8,5.8,7.8,10.4,12.6,13.6,13.4,11.6,9.4,7.2,5.2,3.6,2.5,1.7,1.2,0.9,0.7,0.55,0.45,0.38,0.32,0.27,0.22,0.18,0.14,0.1],
[0,0,0,0,0,0,0,0,0,0,0.05,0.15,0.5,1.8,3.0,2.9,3.0,3.1,3.3,3.6,3.8,4.0,4.3,4.8,6.0,8.2,10.8,12.8,13.4,12.4,10.2,7.8,5.6,3.8,2.6,1.8,1.2,0.85,0.65,0.5,0.42,0.36,0.3,0.26,0.22,0.18,0.14,0.1,0.08],
[0,0,0,0,0,0,0,0,0,0,0.05,0.15,0.5,1.7,2.8,2.8,2.9,3.0,3.2,3.5,3.7,3.9,4.3,4.9,6.3,8.6,11.2,13.0,12.8,11.0,8.6,6.2,4.2,2.8,1.8,1.2,0.85,0.65,0.5,0.42,0.36,0.3,0.26,0.22,0.18,0.15,0.12,0.1,0.08],
[0,0,0,0,0,0,0,0,0,0,0.05,0.15,0.5,1.6,2.7,2.7,2.7,2.9,3.1,3.4,3.6,3.8,4.2,5.0,6.6,9.0,11.4,12.9,12.2,10.0,7.6,5.4,3.6,2.3,1.5,1.0,0.75,0.58,0.46,0.38,0.32,0.27,0.22,0.18,0.15,0.12,0.1,0.08,0.06],
[0,0,0,0,0,0,0,0,0,0,0.05,0.15,0.5,1.5,2.6,2.6,2.6,2.8,3.0,3.3,3.5,3.8,4.2,5.2,7.0,9.4,11.4,12.6,11.4,9.2,6.8,4.8,3.2,2.0,1.3,0.9,0.7,0.55,0.45,0.36,0.3,0.25,0.2,0.17,0.14,0.12,0.1,0.08,0.06],
[0,0,0,0,0,0,0,0,0,0,0.05,0.15,0.5,1.5,2.5,2.5,2.5,2.7,2.8,3.0,3.2,3.5,3.8,4.5,5.8,8.0,10.8,12.2,11.0,9.0,6.8,4.6,3.0,1.7,1.0,0.7,0.55,0.45,0.38,0.3,0.25,0.2,0.17,0.14,0.12,0.1,0.08,0.06,0.05]];
const dUniA=[
[0,0,0,0,0,0,0,0,0,0,0.05,0.15,0.5,1.9,3.2,3.1,3.0,3.2,3.4,3.6,4.0,3.8,4.4,4.6,5.2,6.6,8.6,11.4,13.2,13.7,13.2,11.8,9.8,7.6,5.4,3.6,2.4,1.6,1.1,0.8,0.65,0.55,0.48,0.42,0.36,0.3,0.25,0.2,0.15],
[0,0,0,0,0,0,0,0,0,0,0.05,0.15,0.5,1.8,3.1,3.0,3.0,3.1,3.3,3.6,3.8,3.8,4.3,4.6,5.6,7.4,9.8,12.2,13.4,13.2,12.0,9.8,7.6,5.4,3.6,2.4,1.6,1.1,0.8,0.62,0.5,0.42,0.36,0.3,0.26,0.22,0.18,0.14,0.1],
[0,0,0,0,0,0,0,0,0,0,0.05,0.15,0.5,1.7,2.9,2.9,2.9,3.0,3.2,3.5,3.7,3.8,4.2,4.6,5.8,7.8,10.2,12.4,13.2,12.2,10.4,8.0,5.8,4.0,2.6,1.8,1.2,0.85,0.65,0.52,0.42,0.36,0.3,0.26,0.22,0.18,0.14,0.1,0.08],
[0,0,0,0,0,0,0,0,0,0,0.05,0.15,0.5,1.6,2.8,2.8,2.8,2.9,3.1,3.4,3.6,3.7,4.1,4.7,6.2,8.4,10.8,12.8,12.6,11.0,8.6,6.2,4.4,3.0,1.9,1.3,0.9,0.68,0.52,0.42,0.36,0.3,0.26,0.22,0.18,0.15,0.12,0.1,0.08],
[0,0,0,0,0,0,0,0,0,0,0.05,0.15,0.5,1.5,2.7,2.7,2.7,2.8,3.0,3.3,3.5,3.6,4.0,4.8,6.6,8.8,11.2,12.8,11.8,9.8,7.4,5.2,3.6,2.4,1.5,1.0,0.75,0.58,0.46,0.38,0.32,0.27,0.22,0.18,0.15,0.12,0.1,0.08,0.06],
[0,0,0,0,0,0,0,0,0,0,0.05,0.15,0.5,1.5,2.6,2.6,2.6,2.7,2.9,3.2,3.4,3.6,4.0,5.0,7.2,9.4,11.6,12.8,11.0,8.8,6.6,4.6,3.0,1.9,1.2,0.85,0.65,0.5,0.4,0.33,0.28,0.23,0.19,0.16,0.13,0.11,0.09,0.07,0.05],
[0,0,0,0,0,0,0,0,0,0,0.05,0.15,0.5,1.4,2.6,2.5,2.5,2.6,2.8,3.1,3.2,3.4,3.8,5.0,7.2,9.8,11.8,12.4,10.2,8.0,5.8,4.0,2.6,1.6,1.0,0.75,0.6,0.48,0.38,0.3,0.25,0.2,0.17,0.14,0.12,0.1,0.08,0.06,0.05]];

const svg=d3.select("#chart");
svg.append("rect").attr("width",661).attr("height",717).attr("fill","#fff");
const subH=94.5;
const FONT="Arial, 'Liberation Sans', sans-serif";
const panels=[
 {id:"a",x0:32,x1:307,top:24.5,sym:"\u2225",groups:[[aBiaxYY,aBiaxXX],[aUniBYY,aUniBXX],[aUniAYY,aUniAXX]],label:"a)",curve:d3.curveLinear,rOff:13},
 {id:"b",x0:371,x1:646,top:24.5,sym:"\u22a5",groups:[[bBiax],[bUniB],[bUniA]],label:"b)",curve:d3.curveLinear,rOff:8.5},
 {id:"c",x0:32,x1:307,top:381.5,sym:"\u2225",groups:[[cBiax],[cUniB],[cUniA]],label:"c)",curve:d3.curveMonotoneX,rOff:13},
 {id:"d",x0:371,x1:646,top:381.5,sym:"\u22a5",groups:[[dBiax],[dUniB],[dUniA]],label:"d)",curve:d3.curveMonotoneX,rOff:8.5}
];
const defs=svg.append("defs");
panels.forEach(p=>{
  const x=d3.scaleLinear().domain([0,24]).range([p.x0,p.x1]);
  const g=svg.append("g");
  const bottomAll=p.top+3*subH;
  p.groups.forEach((sets,k)=>{
    const t=p.top+k*subH,b=t+subH;
    const y=d3.scaleLinear().domain([-0.24,14.95]).range([b,t]);
    const cid="clip-"+p.id+k;
    defs.append("clipPath").attr("id",cid).append("rect").attr("x",p.x0).attr("y",t).attr("width",p.x1-p.x0).attr("height",subH);
    g.append("line").attr("x1",p.x0).attr("x2",p.x1).attr("y1",y(0)).attr("y2",y(0)).attr("stroke","#aaa6ee").attr("stroke-width",1);
    const line=d3.line().x((d,i)=>x(energy[i])).y(d=>y(d)).curve(p.curve);
    const lg=g.append("g").attr("clip-path","url(#"+cid+")");
    sets.forEach(set=>{
      set.forEach((vals,si)=>{
        lg.append("path").datum(vals).attr("d",line).attr("fill","none")
          .attr("stroke",strainColors[si]).attr("stroke-width",0.9).attr("stroke-opacity",0.85);
      });
    });
    g.append("rect").attr("x",p.x0).attr("y",t).attr("width",p.x1-p.x0).attr("height",subH)
      .attr("fill","none").attr("stroke","#9c9c9c").attr("stroke-width",1);
    const isBottom=k===2;
    const xa=d3.axisBottom(x).tickValues(xMinorTicks).tickSizeInner(3).tickSizeOuter(0).tickPadding(0.8)
      .tickFormat(d=>(isBottom&&d%2===0)?d:"");
    const gx=g.append("g").attr("transform","translate(0,"+b+")").call(xa);
    const gx2=g.append("g").attr("transform","translate(0,"+b+")").call(d3.axisTop(x).tickValues(xMinorTicks).tickSizeInner(3).tickSizeOuter(0).tickFormat(""));
    [gx,gx2].forEach(a=>{a.select(".domain").attr("stroke","#8a8a8a").attr("stroke-width",1.3);a.selectAll(".tick line").attr("stroke","#555");});
    gx.selectAll("text").attr("font-size",6.8).attr("font-family",FONT).attr("fill","#333");
    const gy=g.append("g").attr("transform","translate("+p.x0+",0)")
      .call(d3.axisLeft(y).tickValues(yTicks).tickSizeInner(2.5).tickSizeOuter(0).tickPadding(1.5));
    gy.select(".domain").remove();
    gy.selectAll(".tick line").attr("stroke","#555");
    gy.selectAll("text").attr("font-size",6.8).attr("font-family",FONT).attr("fill","#333");
    g.append("text").attr("transform","translate("+(p.x1+p.rOff)+","+(t+subH/2)+") rotate(-90)")
      .attr("text-anchor","middle").attr("dominant-baseline","central")
      .attr("font-family",FONT).attr("font-size",11.5).attr("fill","#222").text(subplotLabels[k]);
    if(k===0){
      const lx=p.x1-34,ly=t+4;
      g.append("rect").attr("x",lx).attr("y",ly).attr("width",33).attr("height",67).attr("fill","#fff").attr("stroke","#999").attr("stroke-width",0.7);
      g.append("text").attr("x",lx+3).attr("y",ly+7.5).attr("font-size",6.5).attr("font-family",FONT).attr("fill","#222").text("Strain (%)");
      strains.forEach((s,i)=>{
        const yy=ly+12.5+i*8.2;
        g.append("line").attr("x1",lx+3).attr("x2",lx+17).attr("y1",yy).attr("y2",yy).attr("stroke",strainColors[i]).attr("stroke-width",1.8).attr("stroke-opacity",0.85);
        g.append("text").attr("x",lx+19).attr("y",yy+2.3).attr("font-size",6.5).attr("font-family",FONT).attr("fill","#222").text(s);
      });
    }
  });
  regionBounds.forEach(e=>{
    g.append("line").attr("x1",x(e)).attr("x2",x(e)).attr("y1",p.top).attr("y2",bottomAll)
      .attr("stroke","#555").attr("stroke-width",0.8).attr("stroke-dasharray","3,2");
  });
  regionLabels.forEach((r,i)=>{
    g.append("text").attr("x",x(regionPos[i])).attr("y",p.top-2.5).attr("text-anchor","middle")
      .attr("font-size",6.5).attr("font-weight","bold").attr("font-family",FONT).attr("fill","#333").text(r);
  });
  const yl=g.append("text").attr("transform","translate("+(p.x0-16)+","+(p.top+1.5*subH)+") rotate(-90)")
    .attr("text-anchor","middle").attr("dominant-baseline","central")
    .attr("font-family",FONT).attr("font-size",14.5).attr("fill","#111");
  yl.append("tspan").text("\u03b1");
  yl.append("tspan").attr("font-size",9).attr("dy",3).text(p.sym);
  yl.append("tspan").attr("dy",-3).text("(X10");
  yl.append("tspan").attr("font-size",9).attr("dy",-6).text("5");
  yl.append("tspan").attr("dy",6).text(" cm");
  yl.append("tspan").attr("font-size",9).attr("dy",-6).text("-1");
  yl.append("tspan").attr("dy",6).text(")");
  g.append("text").attr("x",(p.x0+p.x1)/2).attr("y",bottomAll+23).attr("text-anchor","middle")
    .attr("font-family",FONT).attr("font-size",13).attr("fill","#111").text("Energy (eV)");
  g.append("text").attr("x",(p.x0+p.x1)/2-6).attr("y",bottomAll+43.5).attr("text-anchor","middle")
    .attr("font-family","'Liberation Serif', 'Times New Roman', serif").attr("font-size",15).attr("fill","#111").text(p.label);
});
["\u03a8-graphene","\u03a8-graphene"].forEach((t,i)=>{
  svg.append("text").attr("x",331).attr("y",i===0?17:368).attr("text-anchor","middle")
    .attr("font-family","'Liberation Serif', 'Times New Roman', serif").attr("font-size",15.5).attr("fill","#111").text(t);
});
svg.append("text").attr("x",100).attr("y",723).attr("font-family","'Liberation Serif', serif").attr("font-size",14).attr("fill","#333")
  .text("Figure 10  The absorption spectra of \u03a8-graphene for parallel (\u2225) and perpendicular (\u22a5) polarization");
</script>
</body></html>
